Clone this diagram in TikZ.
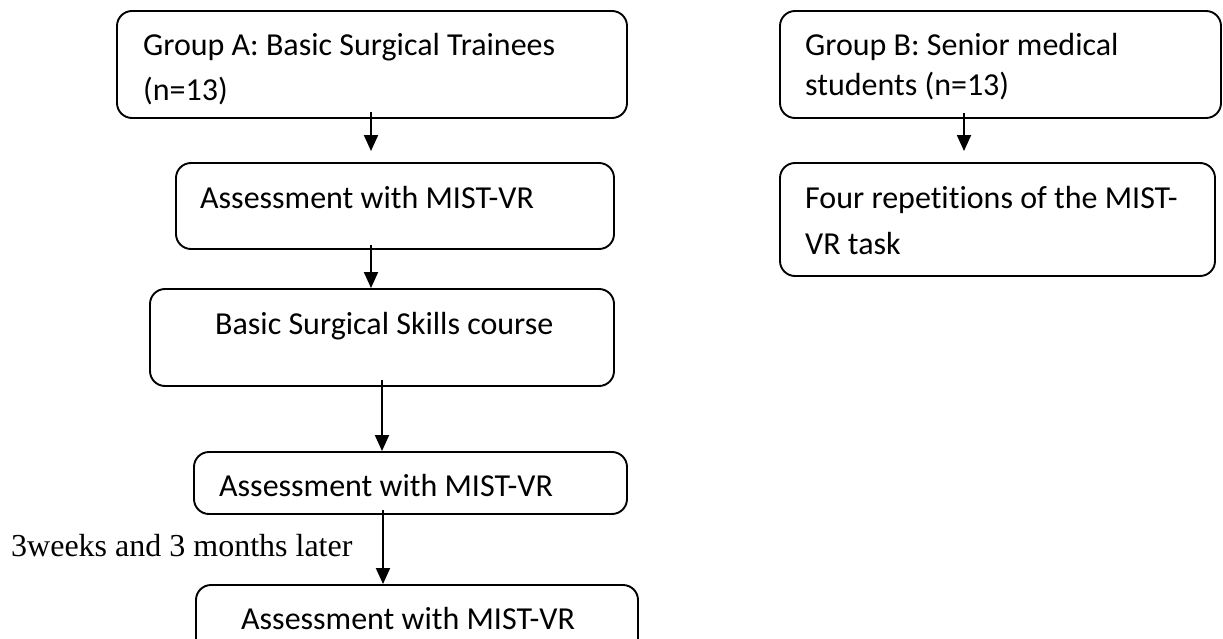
\documentclass[tikz,border=0pt]{standalone}
\usepackage{fontspec}
\setmainfont[Ligatures=NoCommon]{Carlito}
\newfontfamily\timesfont{Liberation Serif}
\usetikzlibrary{arrows.meta}
\begin{document}
\begin{tikzpicture}[x=1pt,y=-1pt,
  box/.style={draw,line width=1.9pt,rounded corners=15pt,inner sep=0pt},
  lbl/.style={anchor=base west,inner sep=0pt,font=\fontsize{32}{39}\selectfont},
  arr/.style={line width=1.9pt,-{Triangle[width=14pt,length=16pt]}}]
\useasboundingbox (0,0) rectangle (1223,639);
\clip (0,0) rectangle (1223,639);
% boxes
\node[box,minimum width=510pt,minimum height=107pt] (a1) at (372,64.5) {};
\node[box,minimum width=438pt,minimum height=86pt] (a2) at (395,206) {};
\node[box,minimum width=464pt,minimum height=97pt] (a3) at (382,337.5) {};
\node[box,minimum width=433pt,minimum height=62pt] (a4) at (410.5,483) {};
\node[box,minimum width=442pt,minimum height=80pt] (a5) at (417,625) {};
\node[box,minimum width=441pt,minimum height=107pt] (b1) at (1000.5,64.5) {};
\node[box,minimum width=435pt,minimum height=113pt] (b2) at (997.5,219.5) {};
% texts
\node[lbl] (ta1a) at (143,56) {Group A: Basic Surgical Trainees};
\node[lbl] (ta1b) at (143,101) {(n=13)};
\node[lbl] (ta2) at (200,208) {Assessment with MIST-VR};
\node[lbl] (ta3) at (215,334) {Basic Surgical Skills course};
\node[lbl] (ta4) at (219,496) {Assessment with MIST-VR};
\node[lbl] (ta5) at (241,629) {Assessment with MIST-VR};
\node[lbl,font=\timesfont\fontsize{32}{39}\selectfont] (later) at (11,556) {3weeks and 3 months later};
\node[lbl] (tb1a) at (805,56) {Group B: Senior medical};
\node[lbl] (tb1b) at (805,96) {students (n=13)};
\node[lbl] (tb2a) at (805,209) {Four repetitions of the MIST-};
\node[lbl] (tb2b) at (805,254) {VR task};
% arrow columns
\coordinate (c1) at (371,0);
\coordinate (c2) at (382,0);
\coordinate (c3) at (383,0);
\coordinate (cb) at (964,0);
\draw[arr] ([yshift=7pt]a1.south -| c1) -- ([yshift=11pt]a2.north -| c1);
\draw[arr] ([yshift=5pt]a2.south -| c1) -- (a3.north -| c1);
\draw[arr] ([yshift=7pt]a3.south -| c2) -- (a4.north -| c2);
\draw[arr] ([yshift=5pt]a4.south -| c3) -- (a5.north -| c3);
\draw[arr] ([yshift=6pt]b1.south -| cb) -- ([yshift=11pt]b2.north -| cb);
\end{tikzpicture}
\end{document}
